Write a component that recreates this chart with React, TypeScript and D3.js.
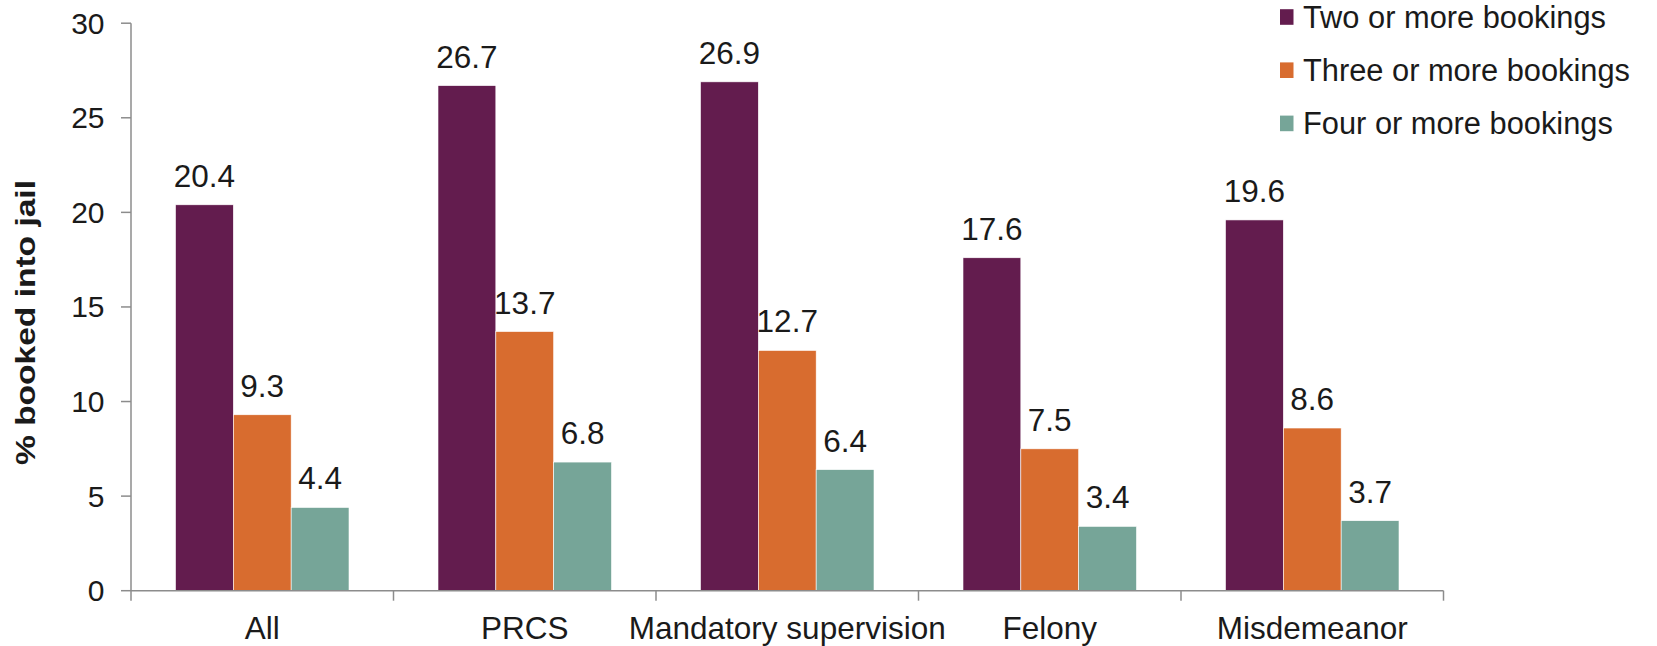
import React from "react";
import * as d3 from "d3";

// Share of people booked into jail, by group and number of bookings
const categories = ["All", "PRCS", "Mandatory supervision", "Felony", "Misdemeanor"];
const seriesNames = ["Two or more bookings", "Three or more bookings", "Four or more bookings"];
const twoOrMore = [20.4, 26.7, 26.9, 17.6, 19.6];
const threeOrMore = [9.3, 13.7, 12.7, 7.5, 8.6];
const fourOrMore = [4.4, 6.8, 6.4, 3.4, 3.7];
const yTicks = [0, 5, 10, 15, 20, 25, 30];
const colors = ["#631C4E", "#D86C2F", "#76A598"];

const W = 1657;
const H = 646;
const left = 131;
const right = 1443.5;
const top = 23.2;
const bottom = 590.7;
const FONT = "'Liberation Sans', Arial, Helvetica, sans-serif";

export default function App() {
  const series = [twoOrMore, threeOrMore, fourOrMore];
  const x0 = d3.scaleBand<string>().domain(categories).range([left, right]).padding(0);
  const bw = x0.bandwidth();
  const x1 = d3.scaleBand<number>().domain([0, 1, 2]).range([44.5, bw - 44.5]).padding(0);
  const y = d3.scaleLinear().domain([0, 30]).range([bottom, top]);
  const axisColor = "#8C8C8C";
  const textColor = "#1A1A1A";

  return (
    <svg
      width={W}
      height={H}
      viewBox={`0 0 ${W} ${H}`}
      style={{ position: "absolute", left: 0, top: 0, display: "block", background: "#fff" }}
      fontFamily={FONT}
    >
      {/* bars */}
      {categories.map((c, ci) => (
        <g key={c} transform={`translate(${x0(c)},0)`}>
          {series.map((vals, si) => (
            <rect
              key={si}
              x={x1(si)}
              y={y(vals[ci])}
              width={x1.bandwidth()}
              height={y(0) - y(vals[ci])}
              fill={colors[si]}
              stroke="#ffffff"
              strokeWidth={0.6}
            />
          ))}
          {series.map((vals, si) => (
            <text
              key={"l" + si}
              x={(x1(si) as number) + x1.bandwidth() / 2}
              y={y(vals[ci]) - 18}
              textAnchor="middle"
              fontSize={31.5}
              fill={textColor}
            >
              {vals[ci].toFixed(1)}
            </text>
          ))}
        </g>
      ))}

      {/* y axis */}
      <line x1={left} x2={left} y1={top} y2={bottom} stroke={axisColor} strokeWidth={1.5} />
      {yTicks.map((t) => (
        <g key={t}>
          <line x1={left - 10} x2={left} y1={y(t)} y2={y(t)} stroke={axisColor} strokeWidth={1.5} />
          <text
            x={104.5}
            y={y(t)}
            dy="0.35em"
            textAnchor="end"
            fontSize={30}
            fill={textColor}
          >
            {t}
          </text>
        </g>
      ))}
      <text
        transform={`translate(34.5,322.5) rotate(-90)`}
        textAnchor="middle"
        fontSize={27}
        fontWeight="bold"
        fill={textColor}
        textLength={285}
        lengthAdjust="spacingAndGlyphs"
      >
        % booked into jail
      </text>

      {/* x axis */}
      <line x1={left} x2={right} y1={bottom} y2={bottom} stroke={axisColor} strokeWidth={1.5} />
      {[...categories.map((c) => x0(c) as number), right].map((px, i) => (
        <line key={i} x1={px} x2={px} y1={bottom} y2={bottom + 10} stroke={axisColor} strokeWidth={1.5} />
      ))}
      {categories.map((c) => (
        <text
          key={c}
          x={(x0(c) as number) + bw / 2}
          y={638.5}
          textAnchor="middle"
          fontSize={31.5}
          fill={textColor}
        >
          {c}
        </text>
      ))}

      {/* legend */}
      {seriesNames.map((n, i) => (
        <g key={n} transform={`translate(1280,${17 + i * 53.2})`}>
          <rect x={0} y={-7.8} width={13.5} height={15.6} fill={colors[i]} />
          <text x={23} y={11} fontSize={30.8} fill={textColor}>
            {n}
          </text>
        </g>
      ))}
    </svg>
  );
}
